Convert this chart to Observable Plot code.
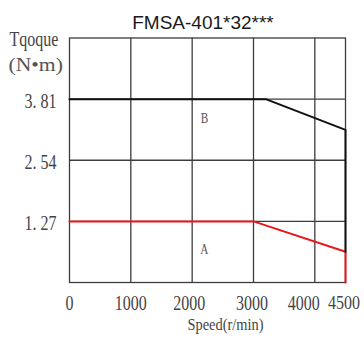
<!DOCTYPE html>
<html><head><meta charset="utf-8">
<script src="https://cdn.jsdelivr.net/npm/d3@7"></script>
<script src="https://cdn.jsdelivr.net/npm/@observablehq/plot@0.6"></script>
<style>body{margin:0;background:#fff}</style>
</head><body><div id="chart"></div>
<script>
const title = "FMSA-401*32***";
const speedTicks = [0, 1000, 2000, 3000, 4000, 4500];
const torqueTicks = [1.27, 2.54, 3.81];
const speedB = [0, 3200, 4500, 4500];
const torqueB = [3.81, 3.81, 3.17, 0.64];
const speedA = [0, 3000, 4500, 4500];
const torqueA = [1.27, 1.27, 0.64, 0];
const curveNames = ["B", "A"];
const curveNameSpeed = [2200, 2200];
const curveNameTorque = [3.42, 0.70];
const yLabelLines = ["Tqoque", "(N•m)"];
const xLabel = "Speed(r/min)";

const lineB = speedB.map((s, i) => ({s, t: torqueB[i]}));
const lineA = speedA.map((s, i) => ({s, t: torqueA[i]}));
const names = curveNames.map((n, i) => ({n, s: curveNameSpeed[i], t: curveNameTorque[i]}));

const grid = "#3c3c3c";
const tickFont = {fontSize: 20, fill: "#444", tickSize: 0, label: null};
const xFmt = d => String(d);
const chart = Plot.plot({
  width: 364, height: 338,
  marginLeft: 69, marginRight: 19, marginTop: 37.5, marginBottom: 56,
  style: {fontFamily: "'Liberation Serif', serif", background: "#fff", overflow: "visible"},
  x: {domain: [0, 4500]},
  y: {domain: [0, 5.08]},
  marks: [
    Plot.ruleX(speedTicks.slice(1, 5), {stroke: grid, strokeWidth: 1.3}),
    Plot.ruleY(torqueTicks, {stroke: grid, strokeWidth: 1.3}),
    Plot.frame({stroke: grid, strokeWidth: 1.3}),
    Plot.axisX([0, 1000], {...tickFont, tickPadding: 13, tickFormat: xFmt}),
    Plot.axisX([4500], {...tickFont, fontSize: 18, tickPadding: 14, dx: -1.5, tickFormat: xFmt}),
    Plot.axisX([2000], {...tickFont, tickPadding: 13, dx: -3, tickFormat: xFmt}),
    Plot.axisX([3000], {...tickFont, tickPadding: 13, dx: -1.5, tickFormat: xFmt}),
    Plot.axisX([4000], {...tickFont, tickPadding: 13, dx: -11, tickFormat: xFmt}),
    Plot.axisY(torqueTicks, {...tickFont, tickPadding: 13, dy: 2, tickFormat: d => d.toFixed(2).replace(".", ". ")}),
    Plot.line(lineA, {x: "s", y: "t", stroke: "#e8191a", strokeWidth: 2}),
    Plot.line(lineB, {x: "s", y: "t", stroke: "#111", strokeWidth: 2}),
    Plot.text(names, {x: "s", y: "t", text: "n", fontSize: 15, fill: "#555"}),
    Plot.text([title], {frameAnchor: "top", lineAnchor: "middle", dx: -4.5, dy: -15, fontSize: 19, fill: "#1a1a1a",
      fontFamily: "'Liberation Sans', Arial, sans-serif"}),
    Plot.text([yLabelLines[0]], {frameAnchor: "top-left", lineAnchor: "middle", dx: -60, dy: 1.5, textAnchor: "start", fontSize: 20, fill: "#444"}),
    Plot.text([yLabelLines[1]], {frameAnchor: "top-left", lineAnchor: "middle", dx: -61, dy: 27.5, textAnchor: "start", fontSize: 18, fill: "#555", fontWeight: "normal"}),
    Plot.text([xLabel], {frameAnchor: "bottom", dx: 18, dy: 47, fontSize: 16, fill: "#444"})
  ]
});
document.getElementById("chart").append(chart);
const factors = {"(N•m)": 1.2, "Speed(r/min)": 0.9, "B": 0.75, "A": 0.75, "4500": 0.89};
d3.select(chart).selectAll("text").each(function() {
  const t = this.textContent;
  if (t === title) return;
  const k = factors[t] ?? 0.8;
  const w = this.getComputedTextLength();
  this.setAttribute("lengthAdjust", "spacingAndGlyphs");
  this.setAttribute("textLength", w * k);
});
</script></body></html>
